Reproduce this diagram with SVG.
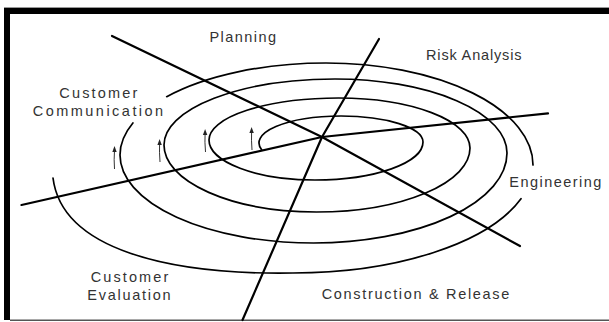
<svg xmlns="http://www.w3.org/2000/svg" width="609" height="322" viewBox="0 0 609 322">
<style>
.lbl{font-family:"Liberation Sans",Arial,sans-serif;font-size:14.5px;fill:#333;}
.axis{fill:none;stroke:#000;stroke-width:2.2;stroke-linecap:round;stroke-linejoin:round;}
.spiral{fill:none;stroke:#000;stroke-width:1.7;stroke-linecap:round;}
.shaft{fill:none;stroke:#333;stroke-width:1;}
.head{fill:#222;}
</style>
<rect width="609" height="322" fill="#fff"/>
<g id="frame">
<rect x="4" y="7" width="605" height="1" fill="#999"/>
<rect x="4" y="8" width="605" height="6" fill="#000"/>
<rect x="4" y="8" width="6" height="312" fill="#000"/>
<line x1="10" y1="320.3" x2="609" y2="320.3" stroke="#555" stroke-width="1.5"/>
</g>
<g id="spiral">
<path class="spiral" d="M261.8 150 A82 27 0 0 1 341 116 A82 26 0 0 1 423 142 A108 38 0 0 1 315 180 A106 40 0 0 1 209 140 A129.5 42 0 0 1 338.5 98 A131.5 50 0 0 1 470 148 A153.5 64 0 0 1 316.5 212 A152.5 67 0 0 1 164 145 A171 66 0 0 1 335 79 A172 74 0 0 1 507 153 A193.5 90 0 0 1 313.5 243 A193.5 88 0 0 1 120 155 A206 92 0 0 1 132.9 123"/>
<path class="spiral" d="M166.7 96.7 A206 92 0 0 1 326 63 A207 102 0 0 1 533 165"/>
<path class="spiral" d="M521 198.7 A240 108 0 0 1 293 273 C170 275 62 250 53 178"/>
</g>
<g id="arrows">
<path class="shaft" d="M114.5 169 Q113.8 160 114.5 150"/>
<path class="shaft" d="M160 162 Q159.2 152 159.6 143"/>
<path class="shaft" d="M205.5 152 Q204.6 142 205.1 133"/>
<path class="shaft" d="M252 150 Q251.2 140 251.6 131"/>
<path class="head" d="M114.5 146 L112.3 152 L116.7 152 Z"/>
<path class="head" d="M159.6 139 L157.4 145 L161.8 145 Z"/>
<path class="head" d="M205.1 129 L202.9 135 L207.3 135 Z"/>
<path class="head" d="M251.6 127 L249.4 133 L253.8 133 Z"/>
</g>
<g id="connectors">
<polyline class="axis" points="112,36 322,137 520,246"/>
<polyline class="axis" points="379,39 322,137 242.5,320"/>
<polyline class="axis" points="21.5,205 322,137 548,113.3"/>
</g>
<g id="planning"><text class="lbl" x="209.5" y="42.3" textLength="66.5" lengthAdjust="spacing">Planning</text></g>
<g id="risk-analysis"><text class="lbl" x="426" y="60" textLength="95.5" lengthAdjust="spacing">Risk Analysis</text></g>
<g id="customer-communication">
<text class="lbl" x="59.3" y="97.5" textLength="78" lengthAdjust="spacing">Customer</text>
<text class="lbl" x="32.7" y="116" textLength="130.5" lengthAdjust="spacing">Communication</text>
</g>
<g id="engineering"><text class="lbl" x="509.3" y="187" textLength="92" lengthAdjust="spacing">Engineering</text></g>
<g id="customer-evaluation">
<text class="lbl" x="90.7" y="282" textLength="77.6" lengthAdjust="spacing">Customer</text>
<text class="lbl" x="87.3" y="300" textLength="83.4" lengthAdjust="spacing">Evaluation</text>
</g>
<g id="construction-release"><text class="lbl" x="321.7" y="298.5" textLength="187.6" lengthAdjust="spacing">Construction &amp; Release</text></g>
</svg>
